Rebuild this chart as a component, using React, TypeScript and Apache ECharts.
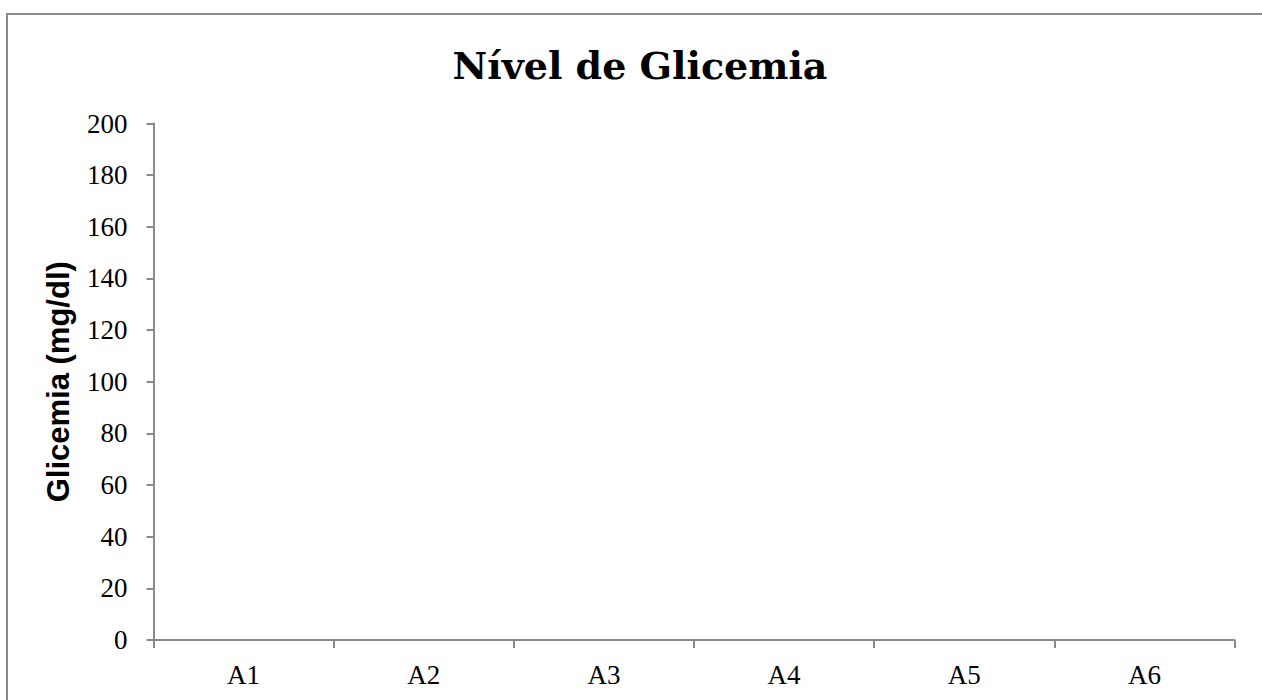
import React, { useEffect, useRef } from "react";
import * as echarts from "echarts";

// Chart content
const chartTitle = "Nível de Glicemia";
const yAxisTitle = "Glicemia (mg/dl)";
const categories = ["A1", "A2", "A3", "A4", "A5", "A6"];
// No readings recorded yet for any group
const glicemiaValues: (number | null)[] = [null, null, null, null, null, null];
const yMin = 0;
const yMax = 200;
const yStep = 20;

const AXIS_GRAY = "#8a8a8a";
const SERIF = "'Liberation Serif', 'DejaVu Serif', serif";

export default function App() {
  const ref = useRef<HTMLDivElement>(null);

  useEffect(() => {
    if (!ref.current) return;
    const chart = echarts.init(ref.current, null, { renderer: "svg" });
    chart.setOption({
      animation: false,
      backgroundColor: "#ffffff",
      title: {
        text: chartTitle,
        left: 635,
        textAlign: "center",
        top: 41,
        textStyle: {
          fontFamily: "'DejaVu Serif', serif",
          fontWeight: "bold",
          fontSize: 38,
          color: "#000",
        },
      },
      graphic: [
        {
          type: "rect",
          shape: { x: 7, y: 14, width: 1300, height: 760 },
          style: { fill: "none", stroke: "#898989", lineWidth: 2 },
          silent: true,
          z: 10,
        },
      ],
      grid: { left: 153.5, top: 123.5, width: 1081, height: 516.5, containLabel: false },
      xAxis: {
        type: "category",
        data: categories,
        boundaryGap: true,
        axisLine: { lineStyle: { color: AXIS_GRAY, width: 2 } },
        axisTick: { show: true, length: 8, alignWithLabel: false, lineStyle: { color: AXIS_GRAY, width: 2 } },
        axisLabel: { margin: 21, fontFamily: SERIF, fontSize: 27, color: "#000" },
        splitLine: { show: false },
      },
      yAxis: {
        type: "value",
        min: yMin,
        max: yMax,
        interval: yStep,
        name: yAxisTitle,
        nameLocation: "middle",
        nameGap: 80,
        nameRotate: 90,
        nameTextStyle: {
          fontFamily: "'Liberation Sans', Arial, sans-serif",
          fontWeight: "bold",
          fontSize: 31,
          color: "#000",
        },
        axisLine: { show: true, lineStyle: { color: AXIS_GRAY, width: 2 } },
        axisTick: { show: true, length: 7, lineStyle: { color: AXIS_GRAY, width: 2 } },
        axisLabel: { margin: 26, fontFamily: SERIF, fontSize: 27, color: "#000" },
        splitLine: { show: false },
      },
      series: [
        {
          type: "bar",
          name: yAxisTitle,
          data: glicemiaValues,
        },
      ],
    });
    return () => chart.dispose();
  }, []);

  return (
    <div
      ref={ref}
      style={{ position: "absolute", left: 0, top: 0, width: 1262, height: 700 }}
    />
  );
}
